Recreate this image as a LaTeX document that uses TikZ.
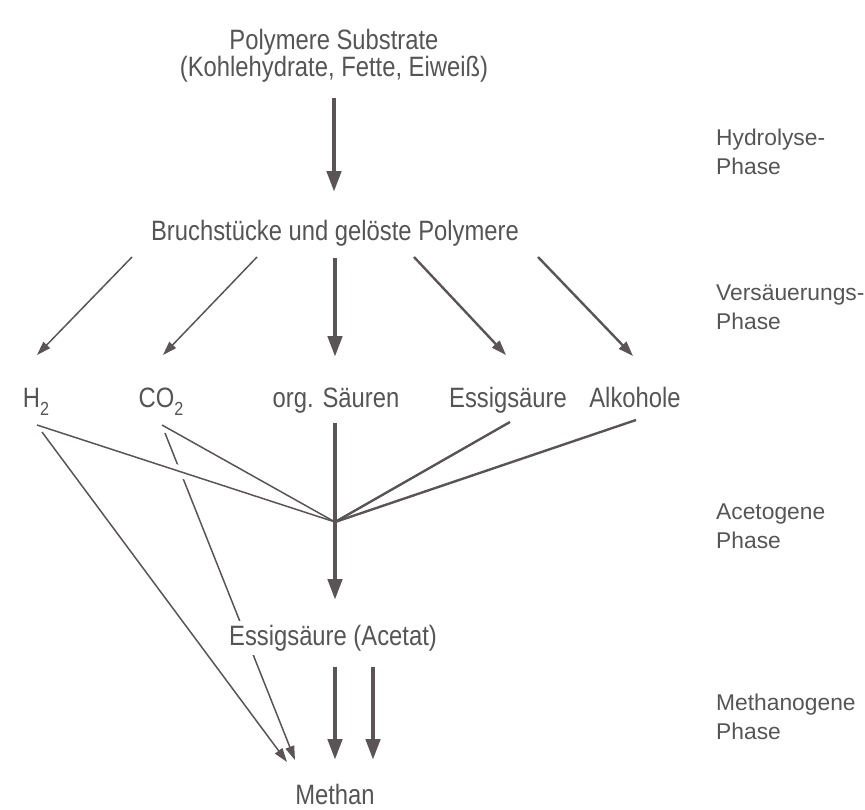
\documentclass[tikz,border=0pt]{standalone}
\usepackage{fontspec}
\setmainfont{Liberation Sans}[FakeStretch=0.85]
\newfontfamily\phasefont{Liberation Sans}
\usetikzlibrary{arrows.meta,calc}
\definecolor{ink}{HTML}{5A5456}
\definecolor{txt}{HTML}{555555}
\newcommand{\subtwo}{\raisebox{-0.55ex}{\fontsize{19}{19}\selectfont 2}}
\tikzset{
  lbl/.style={text=txt,font=\fontsize{28}{25}\selectfont,inner sep=2pt,align=center},
  row/.style={lbl,anchor=base},
  phase/.style={text=txt,font=\phasefont\fontsize{22.8}{29}\selectfont,anchor=west,align=left,inner sep=0pt},
  fatarr/.style={draw=ink,line width=4.5pt,-{Triangle[length=21pt,width=14pt]}},
  midarr/.style={draw=ink,line width=2.4pt,-{Triangle[length=15pt,width=10pt]}},
  thinarr/.style={draw=ink,line width=1.5pt,-{Triangle[length=14pt,width=9pt]}},
  feed/.style={draw=ink,line width=1.5pt},
  feedmid/.style={draw=ink,line width=2.4pt},
}
\begin{document}
\begin{tikzpicture}[x=1pt,y=-1pt]
\clip (0,0) rectangle (865,809);
% phases
\node [phase,name=ph1] at (716,152) {Hydrolyse-\\Phase};
\node [phase,name=ph2] at (716,307) {Versäuerungs-\\Phase};
\node [phase,name=ph3] at (716,526) {Acetogene\\Phase};
\node [phase,name=ph4] at (716,717) {Methanogene\\Phase};
% substances
\node [lbl,name=poly] at (334,56) {Polymere Substrate\\(Kohlehydrate, Fette, Eiweiß)};
\node [lbl,name=bruch] at (335,233) {Bruchstücke und gelöste Polymere};
\node [row,name=h2] at (36,407) {H\subtwo};
\node [row,name=co2] at (161,407) {CO\subtwo};
\node [row,name=saeu] at (336,407) {org. Säuren};
\node [row,name=essig] at (508,407) {Essigsäure};
\node [row,name=alk] at (635,407) {Alkohole};
\node [row,name=methan,inner sep=1pt] at (335,804) {Methan};
% start and end points
\coordinate (b1) at (132,257);
\coordinate (b2) at (257,257);
\coordinate (b3) at (335,258);
\coordinate (b4) at (414,257);
\coordinate (b5) at (538,257);
\coordinate (h2a) at (37,425);
\coordinate (h2b) at (42,432);
\coordinate (co2a) at (162,425);
\coordinate (co2b) at (165,433);
\coordinate (saeua) at (335,423);
\coordinate (essa) at (510,422);
\coordinate (alka) at (636,420);
\coordinate (junc) at (335,522);
\coordinate (acet) at (335,600);
\coordinate (m1) at (287,762);
\coordinate (m2) at (295,760);
% hydrolysis
\draw[fatarr] (334,98) -- (334,192);
% acidification
\draw[thinarr] (b1) -- (37,355);
\draw[thinarr] (b2) -- (163,355);
\draw[fatarr] (b3) -- (335,357);
\draw[midarr] (b4) -- (506,355);
\draw[midarr] (b5) -- (633,356);
% acetogenic
\draw[thinarr] (co2b) -- (m2);
\draw[thinarr] (h2b) -- (m1);
\draw[white,line width=12pt] ($(h2a)!0.46!(junc)$) -- ($(h2a)!0.56!(junc)$);
\draw[feed] (h2a) -- (junc);
\draw[feed] (co2a) -- (junc);
\draw[feedmid] (essa) -- (junc);
\draw[feedmid] (alka) -- (junc);
\draw[draw=ink,line width=3.4pt] (saeua) -- (junc);
\draw[fatarr] (junc) -- (acet);
\node [lbl,name=acetat,fill=white,inner sep=4pt] at (333,638) {Essigsäure (Acetat)};
% methanogenic
\draw[fatarr] (335,667) -- (335,760);
\draw[fatarr] (373,667) -- (373,760);
\end{tikzpicture}
\end{document}
